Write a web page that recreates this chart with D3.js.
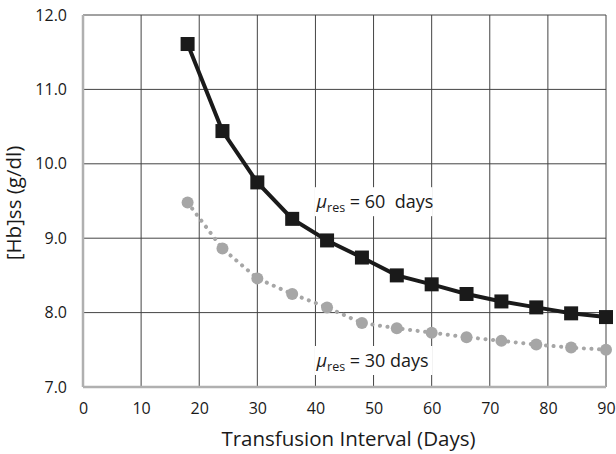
<!DOCTYPE html>
<html>
<head>
<meta charset="utf-8">
<script src="https://cdn.jsdelivr.net/npm/d3@7"></script>
<style>
  body { margin: 0; background: #fff; }
  text { font-family: "Open Sans", sans-serif; fill: #1a1a1a; }
</style>
</head>
<body>
<div id="chart"></div>
<script>
// data
const intervals = [18, 24, 30, 36, 42, 48, 54, 60, 66, 72, 78, 84, 90];
const hb60 = [11.61, 10.44, 9.75, 9.26, 8.97, 8.74, 8.50, 8.38, 8.25, 8.15, 8.07, 7.99, 7.94];
const hb30 = [9.48, 8.86, 8.46, 8.25, 8.07, 7.86, 7.79, 7.73, 7.67, 7.62, 7.57, 7.53, 7.50];
const xTicks = [0, 10, 20, 30, 40, 50, 60, 70, 80, 90];
const yTicks = [7, 8, 9, 10, 11, 12];

var margin = {top: 15, right: 10, bottom: 67, left: 83},
    width = 616 - margin.left - margin.right,
    height = 454 - margin.top - margin.bottom;

const svg = d3.select('#chart')
    .append('svg')
    .attr('width', 616)
    .attr('height', 454)
    .append('g')
    .attr('transform', 'translate(' + margin.left + ',' + margin.top + ')');

const xScale = d3.scaleLinear().domain([0, 90]).range([0, 523]);
const yScale = d3.scaleLinear().domain([7, 12]).range([372, 0]);

// grid
svg.append('g').selectAll('line.v')
    .data(xTicks.slice(1))
    .join('line')
    .attr('x1', d => xScale(d)).attr('x2', d => xScale(d))
    .attr('y1', 0).attr('y2', yScale(7))
    .attr('stroke', '#444').attr('stroke-width', 1);

svg.append('g').selectAll('line.h')
    .data(yTicks.slice(1))
    .join('line')
    .attr('x1', 0).attr('x2', xScale(90))
    .attr('y1', d => yScale(d)).attr('y2', d => yScale(d))
    .attr('stroke', '#444').attr('stroke-width', 1);

// axes
const xAxis = d3.axisBottom(xScale).tickValues(xTicks).tickSize(0).tickPadding(16).tickFormat(d3.format('d'));
const yAxis = d3.axisLeft(yScale).tickValues(yTicks).tickSize(0).tickPadding(16).tickFormat(d3.format('.1f'));

const gx = svg.append('g')
    .attr('class', 'x-axis')
    .attr('transform', `translate(0, ${yScale(7)})`)
    .call(xAxis);
const gy = svg.append('g')
    .attr('class', 'y-axis')
    .call(yAxis);

[gx, gy].forEach(g => {
    g.select('.domain').attr('stroke', '#b0b0b0').attr('stroke-width', 2.5);
    g.selectAll('text').attr('font-size', 16).attr('font-family', '"Open Sans", sans-serif').attr('fill', '#1a1a1a');
});
gx.select('.domain').attr('d', `M0,0H${xScale(90)}`);
gy.select('.domain').attr('d', `M0,${yScale(7)}V0`);

svg.append('text')
    .attr('x', xScale(45) + 4)
    .attr('y', yScale(7) + 59)
    .attr('text-anchor', 'middle')
    .attr('font-size', 20.5)
    .text('Transfusion Interval (Days)');

svg.append('text')
    .attr('transform', `translate(${-62}, ${yScale(9.5) + 2}) rotate(-90)`)
    .attr('text-anchor', 'middle')
    .attr('font-size', 20.5)
    .text('[Hb]ss (g/dl)');

const pts60 = intervals.map((d, i) => ({x: d, y: hb60[i]}));
const pts30 = intervals.map((d, i) => ({x: d, y: hb30[i]}));

const line = d3.line().x(d => xScale(d.x)).y(d => yScale(d.y));

// 30-day series: grey dotted line with circles
svg.append('path')
    .datum(pts30)
    .attr('d', line)
    .attr('fill', 'none')
    .attr('stroke', '#a6a6a6')
    .attr('stroke-width', 4)
    .attr('stroke-linecap', 'round')
    .attr('stroke-dasharray', '0.1 7.5');

svg.append('g').selectAll('circle')
    .data(pts30)
    .join('circle')
    .attr('cx', d => xScale(d.x))
    .attr('cy', d => yScale(d.y))
    .attr('r', 6)
    .attr('fill', '#a6a6a6');

// 60-day series: black line with squares
svg.append('path')
    .datum(pts60)
    .attr('d', line)
    .attr('fill', 'none')
    .attr('stroke', '#1a1a1a')
    .attr('stroke-width', 4);

svg.append('g').selectAll('rect')
    .data(pts60)
    .join('rect')
    .attr('x', d => xScale(d.x) - 7)
    .attr('y', d => yScale(d.y) - 7)
    .attr('width', 14)
    .attr('height', 14)
    .attr('fill', '#1a1a1a');

// labels
function muLabel(x, y, rest) {
    const g = svg.append('g');
    g.append('rect')
        .attr('x', x - 2).attr('y', y - 21)
        .attr('width', 118).attr('height', 29)
        .attr('fill', '#fff');
    const t = g.append('text')
        .attr('x', x).attr('y', y)
        .attr('font-size', 18);
    t.append('tspan').attr('font-style', 'italic').text('μ');
    t.append('tspan').attr('font-size', 12.5).attr('dy', 4).text('res');
    t.append('tspan').attr('dy', -4).text(rest);
}
muLabel(xScale(40.2), yScale(9.0) - 30, ' = 60\u00a0 days');
muLabel(xScale(40.2), yScale(7.0) - 20, ' = 30 days');
</script>
</body>
</html>
